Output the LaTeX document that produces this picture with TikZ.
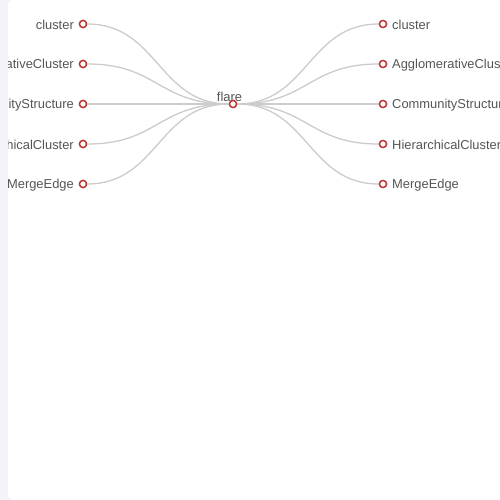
\documentclass[tikz,border=0pt]{standalone}
\usepackage{fontspec}
\setmainfont{Liberation Sans}
\definecolor{strip}{HTML}{F3F3F8}
\definecolor{edgec}{HTML}{CCCCCC}
\definecolor{dotc}{HTML}{C23531}
\definecolor{txt}{HTML}{555555}
\begin{document}
\begin{tikzpicture}[x=1pt,y=-1pt,
  dot/.style={circle,draw=dotc,fill=white,line width=1.4pt,inner sep=0pt,minimum size=7pt},
  lbl/.style={text=txt,font=\fontsize{12.9}{14}\selectfont,inner sep=0pt},
  link/.style={draw=edgec,line width=1.3pt}]
\useasboundingbox (0,0) rectangle (500,500);
\fill[strip] (0,0) rectangle (500,500);
\fill[white,rounded corners=5pt] (8,0) rectangle (520,500);
\begin{scope}
\clip (8,0) rectangle (500,500);
\node[dot] (root) at (233,104) {};
\node[lbl,anchor=base] (rootl) at (229.5,101.5) {flare};
\foreach \n/\y/\t in {a/24/cluster,b/64/AgglomerativeCluster,c/104/CommunityStructure,d/144/HierarchicalCluster,e/184/MergeEdge}{
  \node[dot] (L\n) at (83,\y) {};
  \node[dot] (R\n) at (383,\y) {};
  \draw[link] (root) .. controls (158,104) and (158,\y) .. (L\n);
  \draw[link] (root) .. controls (308,104) and (308,\y) .. (R\n);
  \node[lbl,anchor=east] (L\n t) at (74,\y+0.8) {\t};
  \node[lbl,anchor=west] (R\n t) at (392,\y+0.8) {\t};
}
\node[dot] at (root) {};
\foreach \n in {a,b,c,d,e}{\node[dot] at (L\n) {}; \node[dot] at (R\n) {};}
\end{scope}
\end{tikzpicture}
\end{document}
